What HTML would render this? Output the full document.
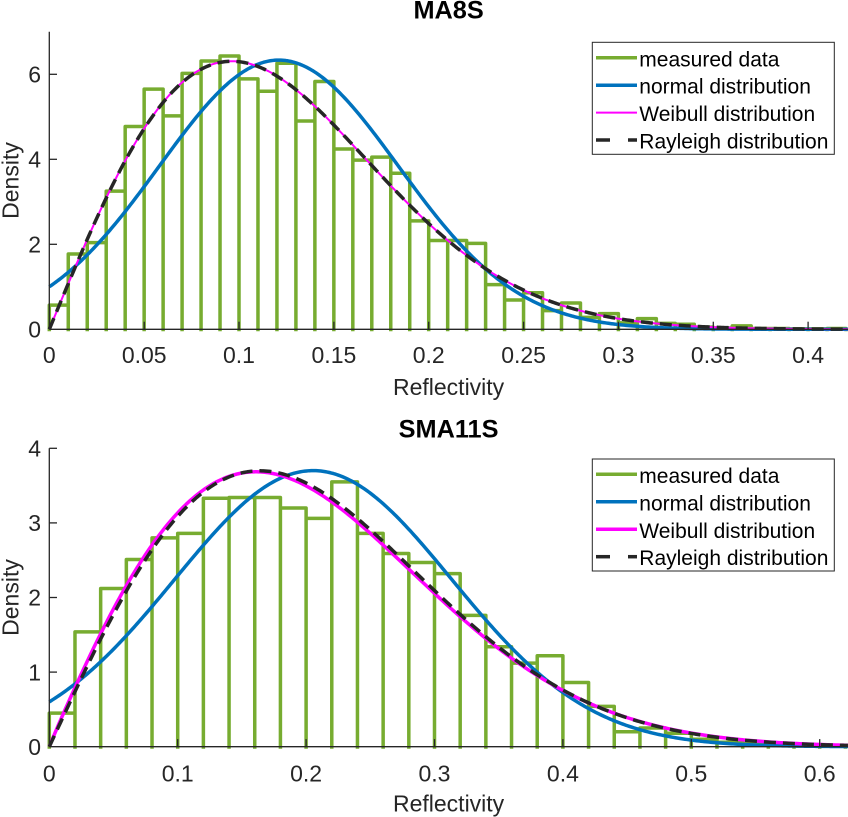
<!DOCTYPE html>
<html><head><meta charset="utf-8"><style>
html,body{margin:0;padding:0;background:#fff;}
svg{display:block;font-family:"Liberation Sans",Arial,sans-serif;}
</style></head><body>
<svg id="s" width="848" height="817" viewBox="0 0 848 817" xmlns="http://www.w3.org/2000/svg">
<rect width="848" height="817" fill="#fff"/>
<g id="p1"></g>
<g id="p2"></g>

<!-- Top axes -->
<g stroke="#262626" stroke-width="1.3" fill="none">
<line x1="49.3" y1="31.7" x2="49.3" y2="329.3"/>
<line x1="49.3" y1="329.3" x2="848" y2="329.3"/>
<line x1="49.3" y1="244.3" x2="57" y2="244.3"/>
<line x1="49.3" y1="159.3" x2="57" y2="159.3"/>
<line x1="49.3" y1="74.3" x2="57" y2="74.3"/>
<line x1="144.2" y1="329.3" x2="144.2" y2="321.7"/>
<line x1="239" y1="329.3" x2="239" y2="321.7"/>
<line x1="333.9" y1="329.3" x2="333.9" y2="321.7"/>
<line x1="428.7" y1="329.3" x2="428.7" y2="321.7"/>
<line x1="523.6" y1="329.3" x2="523.6" y2="321.7"/>
<line x1="618.4" y1="329.3" x2="618.4" y2="321.7"/>
<line x1="713.3" y1="329.3" x2="713.3" y2="321.7"/>
<line x1="808.1" y1="329.3" x2="808.1" y2="321.7"/>
</g>
<g fill="#262626" font-size="23" text-anchor="end">
<text x="41" y="337.5">0</text>
<text x="41" y="252.5">2</text>
<text x="41" y="167.5">4</text>
<text x="41" y="82.5">6</text>
</g>
<g fill="#262626" font-size="23" text-anchor="middle">
<text x="49.3" y="363.2">0</text>
<text x="144.2" y="363.2">0.05</text>
<text x="239" y="363.2">0.1</text>
<text x="333.9" y="363.2">0.15</text>
<text x="428.7" y="363.2">0.2</text>
<text x="523.6" y="363.2">0.25</text>
<text x="618.4" y="363.2">0.3</text>
<text x="713.3" y="363.2">0.35</text>
<text x="808.1" y="363.2">0.4</text>
<text x="448.6" y="394.8">Reflectivity</text>
<text transform="translate(18.3,180.5) rotate(-90)" x="0" y="0">Density</text>
</g>
<text x="448.6" y="18.4" font-size="25.3" font-weight="bold" text-anchor="middle" fill="#000">MA8S</text>

<!-- Top legend -->
<rect x="592.3" y="42.3" width="242" height="112" fill="#fff" stroke="#262626" stroke-width="1"/>
<line x1="596" y1="57.8" x2="637" y2="57.8" stroke="#77AC30" stroke-width="3.5"/>
<line x1="596" y1="85.2" x2="637" y2="85.2" stroke="#0072BD" stroke-width="3.5"/>
<line x1="596" y1="112.6" x2="637" y2="112.6" stroke="#FF00FF" stroke-width="2"/>
<line x1="596" y1="140" x2="610" y2="140" stroke="#262626" stroke-width="3.5"/>
<line x1="628" y1="140" x2="637" y2="140" stroke="#262626" stroke-width="3.5"/>
<g fill="#000" font-size="21">
<text x="639.3" y="66.3">measured data</text>
<text x="639.3" y="93.7">normal distribution</text>
<text x="639.3" y="121.1">Weibull distribution</text>
<text x="639.3" y="148.5">Rayleigh distribution</text>
</g>

<!-- Bottom axes -->
<g stroke="#262626" stroke-width="1.3" fill="none">
<line x1="49.3" y1="448.3" x2="49.3" y2="746.7"/>
<line x1="49.3" y1="746.7" x2="848" y2="746.7"/>
<line x1="49.3" y1="672.1" x2="57" y2="672.1"/>
<line x1="49.3" y1="597.5" x2="57" y2="597.5"/>
<line x1="49.3" y1="522.9" x2="57" y2="522.9"/>
<line x1="49.3" y1="448.3" x2="57" y2="448.3"/>
<line x1="177.7" y1="746.7" x2="177.7" y2="739.1"/>
<line x1="306.1" y1="746.7" x2="306.1" y2="739.1"/>
<line x1="434.5" y1="746.7" x2="434.5" y2="739.1"/>
<line x1="562.9" y1="746.7" x2="562.9" y2="739.1"/>
<line x1="691.3" y1="746.7" x2="691.3" y2="739.1"/>
<line x1="819.7" y1="746.7" x2="819.7" y2="739.1"/>
</g>
<g fill="#262626" font-size="23" text-anchor="end">
<text x="41" y="754.9">0</text>
<text x="41" y="680.3">1</text>
<text x="41" y="605.7">2</text>
<text x="41" y="531.1">3</text>
<text x="41" y="456.5">4</text>
</g>
<g fill="#262626" font-size="23" text-anchor="middle">
<text x="49.3" y="781.5">0</text>
<text x="177.7" y="781.5">0.1</text>
<text x="306.1" y="781.5">0.2</text>
<text x="434.5" y="781.5">0.3</text>
<text x="562.9" y="781.5">0.4</text>
<text x="691.3" y="781.5">0.5</text>
<text x="819.7" y="781.5">0.6</text>
<text x="448.6" y="811.5">Reflectivity</text>
<text transform="translate(18.3,597.5) rotate(-90)" x="0" y="0">Density</text>
</g>
<text x="448.6" y="437.3" font-size="25.3" font-weight="bold" text-anchor="middle" fill="#000">SMA11S</text>

<!-- Bottom legend -->
<rect x="592.3" y="459" width="242" height="112" fill="#fff" stroke="#262626" stroke-width="1"/>
<line x1="596" y1="474.3" x2="637" y2="474.3" stroke="#77AC30" stroke-width="3.5"/>
<line x1="596" y1="501.8" x2="637" y2="501.8" stroke="#0072BD" stroke-width="3.5"/>
<line x1="596" y1="529.3" x2="637" y2="529.3" stroke="#FF00FF" stroke-width="3.5"/>
<line x1="596" y1="556.7" x2="610" y2="556.7" stroke="#262626" stroke-width="3.5"/>
<line x1="628" y1="556.7" x2="637" y2="556.7" stroke="#262626" stroke-width="3.5"/>
<g fill="#000" font-size="21">
<text x="639.3" y="482.8">measured data</text>
<text x="639.3" y="510.3">normal distribution</text>
<text x="639.3" y="537.8">Weibull distribution</text>
<text x="639.3" y="565.2">Rayleigh distribution</text>
</g>
</svg>
<script>
(function(){
function gauss(m,s){return function(x){return Math.exp(-(x-m)*(x-m)/(2*s*s))/(s*Math.sqrt(2*Math.PI));};}
function ray(s){return function(x){return x/(s*s)*Math.exp(-x*x/(2*s*s));};}
function weib(k,l){return function(x){return x<=0?0:(k/l)*Math.pow(x/l,k-1)*Math.exp(-Math.pow(x/l,k));};}
var NS="http://www.w3.org/2000/svg";
function el(g,tag,attrs){var e=document.createElementNS(NS,tag);for(var a in attrs)e.setAttribute(a,attrs[a]);g.appendChild(e);return e;}
function draw(gid,X0,sx,Y0,sy,xmax,bw,bins,curves){
  var g=document.getElementById(gid);
  var d='';
  for(var i=0;i<bins.length;i++){
    var x0=X0+i*bw*sx,x1=X0+(i+1)*bw*sx,y=Y0-bins[i]*sy;
    d+='M'+x0.toFixed(2)+' '+(Y0+2).toFixed(2)+'V'+y.toFixed(2)+'H'+x1.toFixed(2)+'V'+(Y0+2).toFixed(2);
  }
  el(g,'path',{d:d,fill:'none',stroke:'#77AC30','stroke-width':3.5,'stroke-linejoin':'round'});
  for(var j=0;j<curves.length;j++){
    var c=curves[j],p='';
    for(var i=0;i<=500;i++){var x=xmax*i/500;var px=X0+x*sx,py=Y0-c.f(x)*sy;p+=(i?'L':'M')+px.toFixed(2)+' '+py.toFixed(2);}
    var a={d:p,fill:'none',stroke:c.c,'stroke-width':c.w,'stroke-linejoin':'round'};
    if(c.da)a['stroke-dasharray']=c.da;
    el(g,'path',a);
  }
}
draw('p1',49.3,1897,329.3,42.51,0.421,0.01,
 [0.57,1.77,2.04,3.25,4.77,5.65,5.02,6.02,6.31,6.43,5.89,5.60,6.26,4.90,5.83,4.24,3.98,4.05,3.67,2.55,2.09,2.09,2.02,1.05,0.69,0.86,0.44,0.62,0.28,0.37,0.15,0.25,0.14,0.12,0.05,0.03,0.08,0.02,0.02,0.01,0.01,0.02],
 [{f:gauss(0.121,0.0630),c:'#0072BD',w:3.5},
  {f:weib(2.0,0.1360),c:'#FF00FF',w:2},
  {f:ray(0.0962),c:'#262626',w:3.5,da:'12 7'}]);
draw('p2',49.3,1284,746.7,74.6,0.622,0.02,
 [0.45,1.54,2.12,2.51,2.80,2.86,3.33,3.34,3.34,3.20,3.06,3.55,2.86,2.59,2.47,2.32,1.76,1.34,1.12,1.22,0.86,0.54,0.20,0.25,0.18,0.10,0.06,0.04,0.03,0.02,0.02],
 [{f:gauss(0.2055,0.1078),c:'#0072BD',w:3.5},
  {f:weib(1.97,0.2305),c:'#FF00FF',w:3.5},
  {f:ray(0.164),c:'#262626',w:3.5,da:'12 7'}]);
})();
</script>
</body></html>
